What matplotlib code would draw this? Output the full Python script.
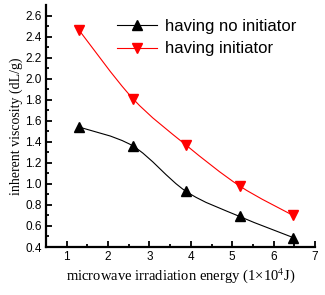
import numpy as np
import matplotlib
matplotlib.use('Agg')
import matplotlib.pyplot as plt
from matplotlib.path import Path
from matplotlib.patches import PathPatch
from matplotlib.lines import Line2D

# Daten
energy = [1.3, 2.6, 3.88, 5.18, 6.47]
no_initiator = [1.54, 1.36, 0.93, 0.69, 0.49]
with_initiator = [2.46, 1.81, 1.37, 0.98, 0.70]

labels = ['having no initiator', 'having initiator']
x_ticks = [1, 2, 3, 4, 5, 6, 7]
y_ticks = [0.4, 0.6, 0.8, 1.0, 1.2, 1.4, 1.6, 1.8, 2.0, 2.2, 2.4, 2.6]

plt.rcParams['mathtext.fontset'] = 'stix'


def smooth_path(xs, ys, tension=1 / 6):
    # Catmull-Rom Kurve als Bezier-Pfad durch die Messpunkte
    pts = np.column_stack([xs, ys])
    verts = [pts[0]]
    codes = [Path.MOVETO]
    n = len(pts)
    for i in range(n - 1):
        p0 = pts[max(i - 1, 0)]
        p1 = pts[i]
        p2 = pts[i + 1]
        p3 = pts[min(i + 2, n - 1)]
        c1 = p1 + (p2 - p0) * tension
        c2 = p2 - (p3 - p1) * tension
        verts += [c1, c2, p2]
        codes += [Path.CURVE4] * 3
    return Path(verts, codes)


fig = plt.figure(figsize=(3.25, 2.95), dpi=100)
ax = fig.add_axes([46 / 325, 1 - 247 / 295, 269 / 325, 242 / 295])

ax.add_patch(PathPatch(smooth_path(energy, no_initiator), fill=False,
                       edgecolor='black', lw=0.8))
ax.add_patch(PathPatch(smooth_path(energy, with_initiator), fill=False,
                       edgecolor='red', lw=0.8))
ax.plot(energy, no_initiator, ls='none', marker='^', ms=6.5, color='black')
ax.plot(energy, with_initiator, ls='none', marker='v', ms=6.5, color='red')

ax.set_xlim(0.5, 7.0)
ax.set_ylim(0.4, 2.7)
ax.set_xticks(x_ticks)
ax.set_xticks(np.arange(1.5, 7, 1), minor=True)
ax.set_yticks(y_ticks)
ax.set_yticks(np.arange(0.5, 2.7, 0.2), minor=True)
ax.set_yticklabels([f'{v:.1f}' for v in y_ticks])

for s in ['top', 'right']:
    ax.spines[s].set_visible(False)
for s in ['left', 'bottom']:
    ax.spines[s].set_linewidth(1.6)

ax.tick_params(which='major', direction='in', length=4, width=1.3,
               labelsize=8.5, pad=3)
ax.tick_params(which='minor', direction='in', length=2.5, width=1.3)
for lab in ax.get_xticklabels() + ax.get_yticklabels():
    lab.set_family('Liberation Sans')

ax.set_xlabel('microwave irradiation energy (1×10$^4$J)', family='Liberation Serif',
              fontsize=10.5, labelpad=2)
ax.set_ylabel('inherent viscosity (dL/g)', family='Liberation Serif',
              fontsize=10, labelpad=2)

handles = [Line2D([], [], color='black', lw=0.8, marker='^', ms=6.5),
           Line2D([], [], color='red', lw=0.8, marker='v', ms=6.5)]
ax.legend(handles, labels, loc='upper left', frameon=False,
          prop={'family': 'Liberation Sans', 'size': 12},
          handlelength=2.4, handletextpad=0.5, labelspacing=0.45,
          borderpad=0, borderaxespad=0,
          bbox_to_anchor=(117 / 325, 1 - 19 / 295), bbox_transform=fig.transFigure)

fig.savefig('out.png', dpi=100)
